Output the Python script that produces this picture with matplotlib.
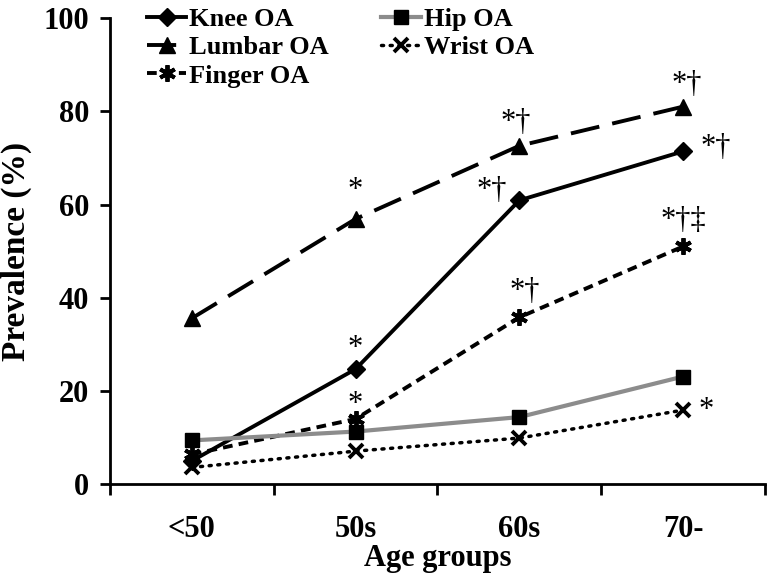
import numpy as np
import matplotlib
matplotlib.use("Agg")
import matplotlib.pyplot as plt

# Данные: распространённость ОА по возрастным группам, %
groups = ['<50', '50s', '60s', '70-']
knee = [5.0, 24.7, 60.9, 71.4]
hip = [9.4, 11.3, 14.4, 23.1]
lumbar = [35.6, 56.9, 72.6, 81.0]
wrist = [3.6, 7.1, 9.9, 15.9]
finger = [6.4, 14.0, 35.8, 51.0]

# значки значимости: (группа, значение, текст)
marks = [
    (1.0, 63.0, '*'), (1.98, 77.5, '*†'), (3.02, 85.8, '*†'),
    (3.2, 72.2, '*†'), (1.83, 63.0, '*†'), (1.0, 29.2, '*'),
    (3.0, 56.5, '*†‡'), (2.03, 41.3, '*†'), (1.0, 17.0, '*'),
    (3.14, 15.9, '*'),
]

plt.rcParams['font.family'] = ['Liberation Serif', 'DejaVu Serif']
plt.rcParams['font.weight'] = 'bold'

fig = plt.figure(figsize=(7.67, 5.82), dpi=100)
ax = fig.add_axes([0.1434, 0.168, 0.854, 0.801])

x = np.arange(len(groups))
ax.plot(x, knee, color='black', lw=2.8, marker='D', ms=9, label='Knee OA')
ax.plot(x, lumbar, color='black', lw=2.8, ls=(0, (7.5, 3.4)), marker='^', ms=11, label='Lumbar OA')
ax.plot(x, finger, color='black', lw=2.8, ls=(0, (2.5, 1.6)), marker=(6, 2, 0), ms=12, mew=2.8,
        label='Finger OA')
ax.plot(x, hip, color='#8c8c8c', lw=3, marker='s', ms=10, mfc='black', mec='black', label='Hip OA')
ax.plot(x, wrist, color='black', lw=2.5, ls=(0, (0.6, 1.9)), dash_capstyle='round', marker='x', ms=10,
        mew=2.8, label='Wrist OA')

for xi, yi, s in marks:
    ax.text(xi, yi, s, ha='center', va='center', fontsize=22, fontweight='normal')

ax.set_xlim(-0.5, 3.5)
ax.set_ylim(0, 100)
ax.set_yticks([0, 20, 40, 60, 80, 100])
ax.set_xticks(x)
ax.set_xticklabels(groups)
ax.set_xticks(np.arange(-0.5, 4.0, 1.0), minor=True)
ax.tick_params(axis='x', which='major', length=0, pad=22, labelsize=22)
ax.tick_params(axis='x', which='minor', length=8, width=2, direction='out')
ax.tick_params(axis='y', length=7, width=2, pad=8, labelsize=22)
for sp in ['top', 'right']:
    ax.spines[sp].set_visible(False)
for sp in ['left', 'bottom']:
    ax.spines[sp].set_linewidth(2)

ax.set_xlabel('Age groups', fontsize=22, fontweight='bold', labelpad=0)
ax.set_ylabel('Prevalence (%)', fontsize=24, fontweight='bold', labelpad=8)

ax.legend(loc='upper left', ncol=2, frameon=False, fontsize=19, handlelength=1.5,
          handletextpad=0.1, columnspacing=2.0, labelspacing=0.18,
          bbox_to_anchor=(0.04, 1.045), borderaxespad=0)

fig.savefig('out.png', dpi=100)
